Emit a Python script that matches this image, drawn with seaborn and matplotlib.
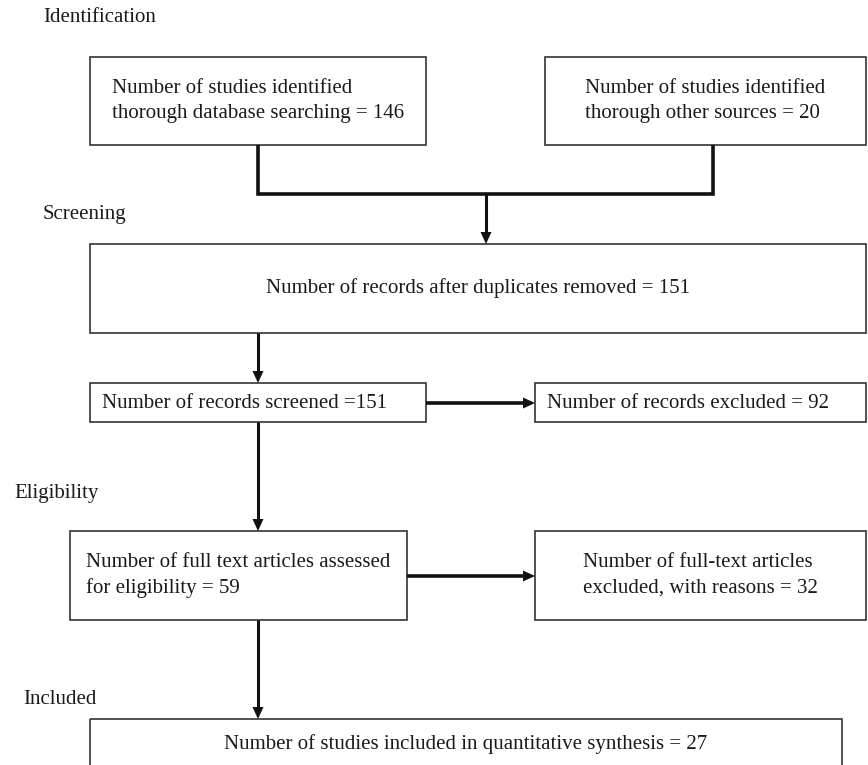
import matplotlib
matplotlib.use("Agg")
import matplotlib.pyplot as plt
from matplotlib.patches import Rectangle
import seaborn as sns

# Flow stages and counts
stages = ["Identification", "Screening", "Eligibility", "Included"]
counts = [146, 20, 151, 151, 92, 59, 32, 27]
labels = [
    "Number of studies identified\nthorough database searching = %d" % counts[0],
    "Number of studies identified\nthorough other sources = %d" % counts[1],
    "Number of records after duplicates removed = %d" % counts[2],
    "Number of records screened =%d" % counts[3],
    "Number of records excluded = %d" % counts[4],
    "Number of full text articles assessed\nfor eligibility = %d" % counts[5],
    "Number of full-text articles\nexcluded, with reasons = %d" % counts[6],
    "Number of studies included in quantitative synthesis = %d" % counts[7],
]

# layout (pixel coordinates, y downwards): x0, y0, x1, y1, text mode
boxes = [
    (90, 57, 426, 145, "c"),
    (545, 57, 866, 145, "c"),
    (90, 244, 866, 333, "c"),
    (90, 383, 426, 422, "l"),
    (535, 383, 866, 422, "l"),
    (70, 531, 407, 620, "c"),
    (535, 531, 866, 620, "c"),
    (90, 719, 842, 772, "top"),
]
stage_pos = [(43, 17), (43, 214), (14, 493), (23, 699)]

sns.set_style("white")
plt.rcParams['font.family'] = ['Liberation Serif', 'DejaVu Serif']

fig = plt.figure(figsize=(8.68, 7.65), dpi=100)
ax = fig.add_axes([0, 0, 1, 1])
ax.set_xlim(0, 868)
ax.set_ylim(765, 0)
ax.axis('off')

fs = 15
tcol = '#1a1a1a'
for (x0, y0, x1, y1, mode), txt in zip(boxes, labels):
    ax.add_patch(Rectangle((x0, y0), x1 - x0, y1 - y0, fill=False,
                           edgecolor='#333333', linewidth=1.2))
    if mode == "l":
        ax.text(x0 + 12, (y0 + y1) / 2 + 1, txt, ha='left', va='center', fontsize=fs, color=tcol)
    elif mode == "top":
        ax.text((x0 + x1) / 2, y0 + 25, txt, ha='center', va='center', fontsize=fs, color=tcol)
    else:
        ax.text((x0 + x1) / 2, (y0 + y1) / 2, txt, ha='center', va='center', fontsize=fs,
                multialignment='left', linespacing=1.45, color=tcol)

for name, (sx, sy) in zip(stages, stage_pos):
    ax.text(sx, sy, name, ha='left', va='center', fontsize=fs, color=tcol)

col = '#111111'
# merge connector from the two identification boxes
ax.plot([258, 258, 713, 713], [145, 194, 194, 145], color=col, linewidth=2.6,
        solid_joinstyle='miter', solid_capstyle='butt')


def arrow(x0, y0, x1, y1, head=12, half=5.5, lw=2.2):
    dx, dy = x1 - x0, y1 - y0
    n = (dx ** 2 + dy ** 2) ** 0.5
    ux, uy = dx / n, dy / n
    bx, by = x1 - ux * head, y1 - uy * head
    ax.plot([x0, bx + ux], [y0, by + uy], color=col, linewidth=lw, solid_capstyle='butt')
    ax.fill([x1, bx - uy * half, bx + uy * half], [y1, by + ux * half, by - ux * half],
            color=col, linewidth=0)


arrow(486, 194, 486, 244)
arrow(258, 333, 258, 383)
arrow(426, 403, 535, 403, lw=2.6)
arrow(258, 422, 258, 531)
arrow(407, 576, 535, 576, lw=2.6)
arrow(258, 620, 258, 719)

fig.savefig("out.png", dpi=100)
